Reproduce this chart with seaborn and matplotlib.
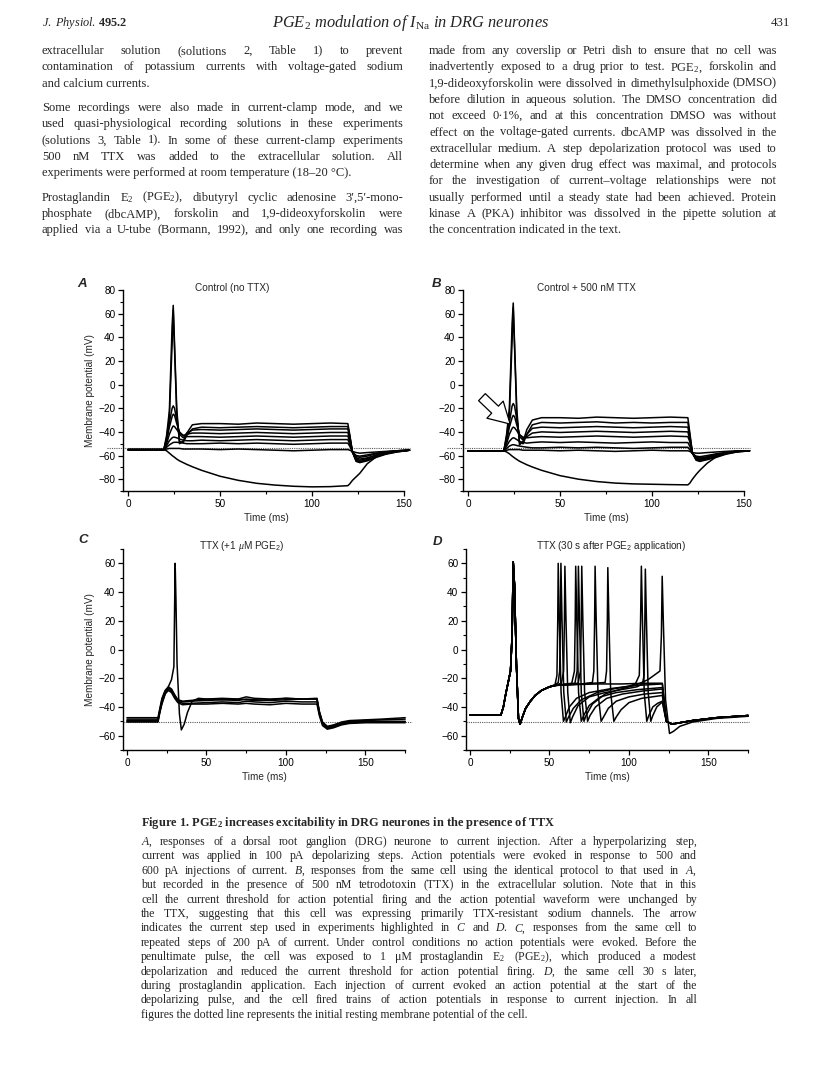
import numpy as np
import pandas as pd
import seaborn as sns
import matplotlib.pyplot as plt
from matplotlib.ticker import MultipleLocator
from matplotlib.patches import FancyArrowPatch

W, H = 816, 1071

# ---------------- data ----------------
# panels A and B share one time grid (ms)
T_AB = [0, 19.5, 21, 22.5, 24, 24.6, 25.3, 26.5, 28, 30, 32, 35, 40, 50, 60, 70,
        80, 90, 100, 110, 119.5, 120.5, 122, 124, 126, 130, 135, 140, 146, 153]

# A: control (no TTX), membrane potential (mV)
a_hyp = [-55, -55, -56, -58, -60, -60.7, -61.5, -63, -64.5, -66, -67.5, -69.5, -72.5, -77.5, -81, -83.5,
         -85, -86, -86.5, -86.3, -85.5, -84, -81, -78, -75, -67, -61, -58, -56.5, -55.5]
a_100 = [-55, -55, -54.5, -54, -54, -54, -54, -54, -54, -54.5, -54.5, -54.5, -54.5, -55, -54.5, -55,
         -55.5, -56, -55.5, -55, -55, -55.5, -56.5, -57.5, -58, -57.5, -57, -56.5, -56, -55.5]
a_200 = [-55, -55, -53, -51, -49.5, -49, -48.8, -48.8, -49, -49.5, -50, -50, -50, -49.5, -50, -49.5,
         -50, -50.5, -50, -49.5, -49.5, -52, -57, -60, -60.5, -59.5, -58, -57, -56, -55.5]
a_300 = [-55, -55, -51.5, -47.5, -45, -44.5, -44.5, -45, -46, -47, -47.5, -47.5, -47, -47.5, -47, -46.5,
         -47, -47.5, -47, -46.5, -46.5, -50, -57, -61, -61.5, -60.5, -58.5, -57, -56, -55.5]
a_400 = [-55, -55, -50, -42, -36.5, -35, -35.5, -38, -41, -43, -44, -44, -44, -44.5, -44, -43.5,
         -44, -44.5, -44, -43.5, -43.5, -48, -57, -62, -63, -62, -59.5, -57.5, -56, -55.5]
a_500 = [-55, -55, -48, -36, -27, -25, -26, -33, -40, -43, -42, -41, -41, -41.5, -41, -40.5,
         -41, -41.5, -41, -40.5, -40.5, -46, -57, -63, -64, -62.5, -60, -58, -56.5, -55.5]
a_600 = [-55, -55, -46, -32, -20, -18, -20, -30, -42, -45, -41, -38.5, -38, -38.5, -38, -37.5,
         -38, -38.5, -38, -37.5, -37.5, -44, -57, -64, -65, -63.5, -61, -58.5, -56.5, -55.5]
a_700 = [-55, -55, -45, -28, 35, 63, 30, -25, -48, -49, -43, -37.5, -36, -36.5, -36, -35.5,
         -36, -36.5, -36, -35.5, -35.5, -43, -57, -64.5, -65.5, -64, -61, -58.5, -57, -55.5]
a_800 = [-55, -55, -43, -22, 50, 67, 35, -20, -50, -48, -41, -34, -33, -33, -33.5, -32.5,
         -33, -33.5, -33, -32.5, -33, -42, -57, -65, -66, -64.5, -61.5, -59, -57, -55.5]
A_TRACES = [a_hyp, a_100, a_200, a_300, a_400, a_500, a_600, a_700, a_800]
A_REST = -54

# B: control + 500 nM TTX
b_hyp = [-56, -56, -57, -58.5, -60.5, -61.2, -62, -63.3, -64.8, -66.3, -67.8, -69.7, -72.5, -77, -80, -82,
         -83.3, -84, -84.3, -84.6, -84.8, -83.5, -80, -76, -72.5, -66.5, -61, -58, -56.5, -56]
b_100 = [-56, -56, -55.5, -55, -55, -55, -55, -55, -55, -55.5, -55.5, -55.5, -55.5, -56, -55.5, -56,
         -56.5, -56, -55.5, -56, -56, -56.5, -57.5, -58, -58, -57.5, -57, -56.5, -56, -56]
b_200 = [-56, -56, -54, -52, -51, -50.8, -51, -51.5, -52, -52.5, -53, -53.5, -53.5, -53, -53.5, -53,
         -53.5, -54, -53.5, -53, -53, -55, -58.5, -60.5, -61, -60, -58.5, -57.5, -56.5, -56]
b_300 = [-56, -56, -52, -48, -45.5, -45, -45.3, -46.5, -48, -49, -49.5, -49, -48.5, -49, -48.5, -49,
         -49.5, -49, -48.5, -49, -49, -52, -58, -61.5, -62, -61, -59, -57.5, -56.5, -56]
b_400 = [-56, -56, -50, -42, -37, -36, -36.5, -39, -42.5, -44.5, -45, -44.5, -44, -44.5, -44, -43.5,
         -44, -44.5, -44, -43.5, -44, -48, -58, -62, -63, -61.5, -59.5, -57.5, -56.5, -56]
b_500 = [-56, -56, -48, -36, -28, -26, -27, -34, -42, -46, -44, -41, -40, -40.5, -40, -39.5,
         -40, -40.5, -40, -39.5, -40, -46, -58, -62.5, -63.5, -62, -60, -58, -56.5, -56]
b_600 = [-56, -56, -46, -32, -18, -16, -18, -29, -44, -47, -42, -37, -36, -36.5, -36, -35.5,
         -36, -36.5, -36, -35.5, -36, -44, -58, -63, -64, -62.5, -60.5, -58, -56.5, -56]
b_700 = [-56, -56, -44, -26, 38, 65, 32, -25, -49, -50, -42, -34, -32, -32.5, -32, -31.5,
         -32.5, -32, -32.5, -32, -32, -42, -58, -63.5, -64.5, -63, -61, -58.5, -57, -56]
b_800 = [-56, -56, -42, -20, 52, 69, 36, -20, -51, -48, -38, -30, -28, -28, -28.5, -27.5,
         -28, -28.5, -28, -27.5, -28, -40, -58, -64, -65, -63.5, -61.5, -59, -57, -56]
B_TRACES = [b_hyp, b_100, b_200, b_300, b_400, b_500, b_600, b_700, b_800]
B_REST = -54

# C: TTX (+1 uM PGE2), repeated 200 pA steps
T_C = [0, 19.5, 20.5, 22, 24, 26, 28, 30, 32, 35, 40, 50, 60, 70, 75, 80, 90, 100, 110,
       119.5, 121, 123, 126, 130, 135, 140, 150, 160, 175]
c_1 = [-50, -50, -44, -36, -30, -27.5, -29, -33, -36, -37.5, -37.5, -37, -36.5, -37, -36, -36.5, -37, -36,
       -36.5, -36.5, -45, -52, -55, -54, -52, -51, -50.5, -50.5, -50.5]
c_2 = [-50.5, -50.5, -45, -37, -31, -28.5, -30, -34, -37, -38.5, -38, -38, -37.5, -38, -37.5, -38, -38.5,
       -37.5, -38, -38, -46, -53, -55.5, -54.5, -52.5, -51.5, -51, -51, -51]
c_3 = [-49.5, -49.5, -43, -35, -29, -26.5, -28, -32, -35.5, -36.5, -36, -35.5, -35, -35.5, -34.5, -35,
       -35.5, -35, -34.5, -34.5, -44, -51.5, -54.5, -53.5, -51.5, -50.5, -50, -50, -50]
c_4 = [-47.5, -47.5, -42, -34, -28.5, -26, -27.5, -31.5, -35, -36, -35.5, -34.5, -34, -34.5, -33, -34,
       -34.5, -34, -34.5, -34, -43, -50.5, -53.5, -52.5, -50.5, -49.5, -49, -48.5, -47.5]
C_TRACES = [c_1, c_2, c_3, c_4]
c_spike_t = [0, 19.5, 20.5, 22, 24, 26, 28, 29.5, 30.3, 30.8, 31.5, 33, 34.2, 36, 38, 41, 45, 50, 60,
             70, 80, 90, 100, 110, 119.5, 121, 123, 126, 130, 135, 140, 150, 160, 175]
c_spike_v = [-48.5, -48.5, -44, -38, -31, -26, -21, -12, 60, 35, -10, -45, -56, -52, -44, -36, -34, -34.5,
             -35, -34.5, -35.5, -35, -34, -34.5, -34.5, -43.5, -51, -54, -53, -51, -50, -49.5, -49, -48.5]
C_REST = -50.5

# D: TTX, 30 s after PGE2 application
D_START_T = [0, 19.5, 21, 22.5, 24, 25.5, 26.5, 27.2, 28, 29.2, 30.5, 31.5, 33, 35, 38, 41, 45, 50]
D_START_V = [-45.5, -45.5, -40, -31, -23, -15, 10, 61, 45, -10, -48, -52, -47, -41, -36, -32, -28.5, -26]
D_END_T = [123.5, 127, 132, 140, 155, 175]
D_END_V = [-50, -52, -51, -49.5, -47.5, -46]
d1_t = [53.5, 54.7, 55.2, 55.5, 56.2, 57.3, 58.8, 60, 62.5, 67, 75, 90, 105, 121]
d1_v = [-24.5, -18, 20, 60, 20, -30, -50, -47, -40, -34, -30, -27, -25, -24]
d2_t = [53, 55.5, 56.4, 56.9, 57.2, 57.9, 59, 60.6, 62, 65, 70, 80, 90, 100, 104, 106.5, 107.3, 107.8,
        108.5, 109.6, 111.2, 112.5, 115, 118, 121]
d2_v = [-25, -23, -15, 20, 60, 20, -30, -50.5, -47, -41, -35, -30, -27.5, -25.5, -24, -18, 20, 58,
        20, -30, -50, -46, -40, -37.5, -36]
d3_t = [53, 57.5, 58.9, 59.4, 59.7, 60.4, 61.5, 63.1, 64.5, 68, 75, 85, 95, 105, 108.5, 109.5, 110,
        110.3, 111, 112.1, 113.7, 115, 117.5, 121]
d3_v = [-25, -23.5, -15, 20, 58, 20, -30, -51, -47, -39, -33, -30, -28, -26, -24, -18, 20,
        56, 20, -30, -50, -46, -40, -36.5]
d4_t = [54, 65, 80, 95, 110, 121]
d4_v = [-25, -24.5, -24, -24, -23.5, -23.5]
d5_t = [54, 64, 65.7, 66.2, 66.5, 67.2, 68.3, 70, 71.5, 75, 82, 92, 105, 121]
d5_v = [-25, -23.5, -15, 20, 58, 20, -30, -50, -46, -39, -33, -30, -28, -26.5]
d6_t = [54, 66, 67.4, 67.9, 68.2, 68.9, 70, 71.7, 73, 77, 85, 95, 105, 112, 117, 119.5, 120.4,
        120.9, 121.6, 123, 125.5, 128, 132, 140, 155, 175]
d6_v = [-25, -23.5, -15, 20, 58, 20, -30, -50, -46, -38, -31, -27.5, -24.5, -21, -17, -15, 10,
        51, 20, -35, -58.5, -57, -53.5, -50.5, -48, -46.5]
d7_t = [54, 68, 69.5, 70, 70.3, 71, 72.1, 74, 75.5, 79, 86, 96, 108, 121]
d7_v = [-25, -23.5, -15, 20, 58, 20, -30, -50, -46, -40, -34, -31, -29, -27.5]
d8_t = [54, 70, 77, 77.9, 78.4, 78.7, 79.4, 80.5, 82.5, 84, 87, 92, 100, 110, 121]
d8_v = [-25, -24, -23, -15, 20, 58, 20, -30, -50, -47, -41, -36, -33, -31, -30]
d9_t = [54, 70, 85, 85.9, 86.4, 86.7, 87.4, 88.5, 90.5, 92, 95, 100, 108, 121]
d9_v = [-25, -24, -23, -15, 20, 57, 20, -30, -50, -47, -42, -37, -34, -32]
D_TRACES = [(d1_t, d1_v), (d2_t, d2_v), (d3_t, d3_v), (d4_t, d4_v), (d5_t, d5_v),
            (d7_t, d7_v), (d8_t, d8_v), (d9_t, d9_v)]
D_LAST = (d6_t, d6_v)          # carries its own end (spike at the step offset)
D_REST = -50.5

# ---------------- page text ----------------
LEFT_PARAS = [
    ["extracellular solution (solutions 2, Table 1) to prevent",
     "contamination of potassium currents with voltage-gated sodium",
     "and calcium currents."],
    ["Some recordings were also made in current-clamp mode, and we",
     "used quasi-physiological recording solutions in these experiments",
     "(solutions 3, Table 1). In some of these current-clamp experiments",
     "500 nM TTX was added to the extracellular solution. All",
     "experiments were performed at room temperature (18\u201320 \u00b0C)."],
    ["Prostaglandin E$_2$ (PGE$_2$), dibutyryl cyclic adenosine 3\u2032,5\u2032-mono-",
     "phosphate (dbcAMP), forskolin and 1,9-dideoxyforskolin were",
     "applied via a U-tube (Bormann, 1992), and only one recording was"],
]
RIGHT_LINES = [
    "made from any coverslip or Petri dish to ensure that no cell was",
    "inadvertently exposed to a drug prior to test. PGE$_2$, forskolin and",
    "1,9-dideoxyforskolin were dissolved in dimethylsulphoxide (DMSO)",
    "before dilution in aqueous solution. The DMSO concentration did",
    "not exceed 0\u00b71%, and at this concentration DMSO was without",
    "effect on the voltage-gated currents. dbcAMP was dissolved in the",
    "extracellular medium. A step depolarization protocol was used to",
    "determine when any given drug effect was maximal, and protocols",
    "for the investigation of current\u2013voltage relationships were not",
    "usually performed until a steady state had been achieved. Protein",
    "kinase A (PKA) inhibitor was dissolved in the pipette solution at",
    "the concentration indicated in the text.",
]
CAPTION_TITLE = r"Figure 1. PGE$_\mathbf{2}$ increases excitability in DRG neurones in the presence of TTX"
CAPTION_LINES = [
    "$A$, responses of a dorsal root ganglion (DRG) neurone to current injection. After a hyperpolarizing step,",
    "current was applied in 100 pA depolarizing steps. Action potentials were evoked in response to 500 and",
    "600 pA injections of current. $B$, responses from the same cell using the identical protocol to that used in $A$,",
    "but recorded in the presence of 500 nM tetrodotoxin (TTX) in the extracellular solution. Note that in this",
    "cell the current threshold for action potential firing and the action potential waveform were unchanged by",
    "the TTX, suggesting that this cell was expressing primarily TTX-resistant sodium channels. The arrow",
    "indicates the current step used in experiments highlighted in $C$ and $D$. $C$, responses from the same cell to",
    "repeated steps of 200 pA of current. Under control conditions no action potentials were evoked. Before the",
    "penultimate pulse, the cell was exposed to 1 \u03bcM prostaglandin E$_2$ (PGE$_2$), which produced a modest",
    "depolarization and reduced the current threshold for action potential firing. $D$, the same cell 30 s later,",
    "during prostaglandin application. Each injection of current evoked an action potential at the start of the",
    "depolarizing pulse, and the cell fired trains of action potentials in response to current injection. In all",
    "figures the dotted line represents the initial resting membrane potential of the cell.",
]

# ---------------- style ----------------
sns.set_theme(style='ticks')
SANS = ['Liberation Sans', 'DejaVu Sans']
SERIF = 'Liberation Serif'
plt.rcParams['font.family'] = SANS
plt.rcParams['mathtext.fontset'] = 'custom'
plt.rcParams['mathtext.rm'] = 'Liberation Serif'
plt.rcParams['mathtext.it'] = 'Liberation Serif:italic'
plt.rcParams['mathtext.bf'] = 'Liberation Serif:bold'
plt.rcParams['mathtext.sf'] = 'Liberation Sans'
plt.rcParams['axes.unicode_minus'] = True

fig = plt.figure(figsize=(W / 100, H / 100), dpi=100)
fig.patch.set_facecolor('white')
renderer = fig.canvas.get_renderer()


def fx(x):
    return x / W


def fy(y):
    return 1 - y / H


def put_line(x0, x1, y, s, size, justify=True, **kw):
    words = s.split(' ')
    if not justify or len(words) < 2:
        fig.text(fx(x0), fy(y), s, size=size, family=SERIF, va='baseline', **kw)
        return
    objs = [fig.text(0, fy(y), w, size=size, family=SERIF, va='baseline', **kw) for w in words]
    widths = [o.get_window_extent(renderer=renderer).width for o in objs]
    gap = (x1 - x0 - sum(widths)) / (len(words) - 1)
    x = x0
    for o, w in zip(objs, widths):
        o.set_x(fx(x))
        x += w + gap


# header
fig.text(fx(42), fy(26), r"$\mathit{J.\ Physiol.}\,\mathbf{495.2}$", size=8.8, va='baseline')
fig.text(fx(411), fy(27), r"PGE$_{\it 2}$ modulation of $I_{\rm Na}$ in DRG neurones",
         size=11.8, family=SERIF, style='italic', ha='center', va='baseline')
fig.text(fx(790), fy(26), "431", size=9.2, family=SERIF, ha='right', va='baseline')

# body columns
BODY = 9.0
LINE = 16.3
y = 54
for para in LEFT_PARAS:
    for i, line in enumerate(para):
        last = (i == len(para) - 1) and para is not LEFT_PARAS[-1]
        put_line(42, 403, y, line, BODY, justify=not last)
        y += LINE
    y += LINE * 0.5
y = 54
for i, line in enumerate(RIGHT_LINES):
    put_line(429, 777, y, line, BODY, justify=(i < len(RIGHT_LINES) - 1))
    y += LINE

# caption
fig.text(fx(141), fy(826), CAPTION_TITLE, size=8.9, family=SERIF, weight='bold', va='baseline')
y = 845
for i, line in enumerate(CAPTION_LINES):
    put_line(141, 697, y, line, 8.5, justify=(i < len(CAPTION_LINES) - 1))
    y += 14.4


# ---------------- panels ----------------
def make_panel(left, right, top, bottom, xlim, ylim, xend, yticks):
    ax = fig.add_axes([fx(left), fy(bottom), (right - left) / W, (bottom - top) / H])
    ax.set_xlim(*xlim)
    ax.set_ylim(*ylim)
    ax.patch.set_alpha(0)
    sns.despine(ax=ax)
    ax.spines['bottom'].set_bounds(xlim[0], xend)
    for sp in ('left', 'bottom'):
        ax.spines[sp].set_linewidth(1.0)
        ax.spines[sp].set_color('black')
    ax.xaxis.set_minor_locator(MultipleLocator(25))
    ax.yaxis.set_minor_locator(MultipleLocator(10))
    ax.set_xticks([v for v in range(0, xend + 1, 50)])
    ax.set_yticks(yticks)
    ax.tick_params(which='major', length=3.5, width=0.9, labelsize=7.2, pad=2, color='black', labelcolor='black')
    ax.tick_params(which='minor', length=2.2, width=0.8, color='black')
    ax.set_xlabel('Time (ms)', size=7.2, labelpad=3)
    return ax


def draw(ax, t, v):
    sns.lineplot(x=t, y=v, ax=ax, color='black', linewidth=1.1, estimator=None, sort=False,
                 clip_on=False)


def rest_line(ax, level, x0, x1):
    ax.axhline(level, xmin=x0, xmax=x1, color='0.35', lw=0.8, ls=(0, (1, 1)), clip_on=False, zorder=1)


yt_ab = list(range(-80, 81, 20))
yt_cd = list(range(-60, 61, 20))

axA = make_panel(123, 409.5, 290, 491, (-2.7, 153), (-90, 80), 150, yt_ab)
axB = make_panel(463, 749.5, 290, 491, (-2.7, 153), (-90, 80), 150, yt_ab)
axC = make_panel(123, 406, 549, 750, (-2.5, 175.5), (-70, 70), 175, yt_cd)
axD = make_panel(466, 749, 549, 750, (-2.5, 175.5), (-70, 70), 175, yt_cd)

for tr in A_TRACES:
    draw(axA, T_AB, tr)
for tr in B_TRACES:
    draw(axB, T_AB, tr)
for tr in C_TRACES:
    draw(axC, T_C, tr)
draw(axC, c_spike_t, c_spike_v)
for t, v in D_TRACES:
    draw(axD, D_START_T + t + D_END_T, D_START_V + v + D_END_V)
draw(axD, D_START_T + D_LAST[0], D_START_V + D_LAST[1])

rest_line(axA, A_REST, -0.055, 1.0)
rest_line(axB, B_REST, -0.055, 1.0)
rest_line(axC, C_REST, 0.0, 1.02)
rest_line(axD, D_REST, 0.0, 1.0)

for ax in (axA, axC):
    ax.set_ylabel('Membrane potential (mV)', size=7.2, labelpad=2)
for ax in (axB, axD):
    ax.set_ylabel('')

# arrow marking the step used in C and D
axB.add_patch(FancyArrowPatch((6.5, -9), (24, -35),
                              arrowstyle='simple,head_length=0.75,head_width=0.85,tail_width=0.35',
                              mutation_scale=20, fc='white', ec='black', lw=0.9, zorder=5))

# panel titles and letters
fig.text(fx(232), fy(291), 'Control (no TTX)', size=7.2, ha='center', va='baseline')
fig.text(fx(586), fy(291), 'Control + 500 nM TTX', size=7.2, ha='center', va='baseline')
fig.text(fx(242), fy(549), r'TTX (+1 $\mu$M PGE$_\mathsf{2}$)', size=7.2, ha='center', va='baseline')
fig.text(fx(611), fy(549), r'TTX (30 s after PGE$_\mathsf{2}$ application)', size=7.2, ha='center', va='baseline')
for lx, ly, s in [(77, 287, 'A'), (432, 287, 'B'), (78, 543, 'C'), (433, 545, 'D')]:
    fig.text(fx(lx), fy(ly), s, size=9.5, style='italic', weight='bold', va='baseline')

fig.savefig('out.png', dpi=100, facecolor='white')
